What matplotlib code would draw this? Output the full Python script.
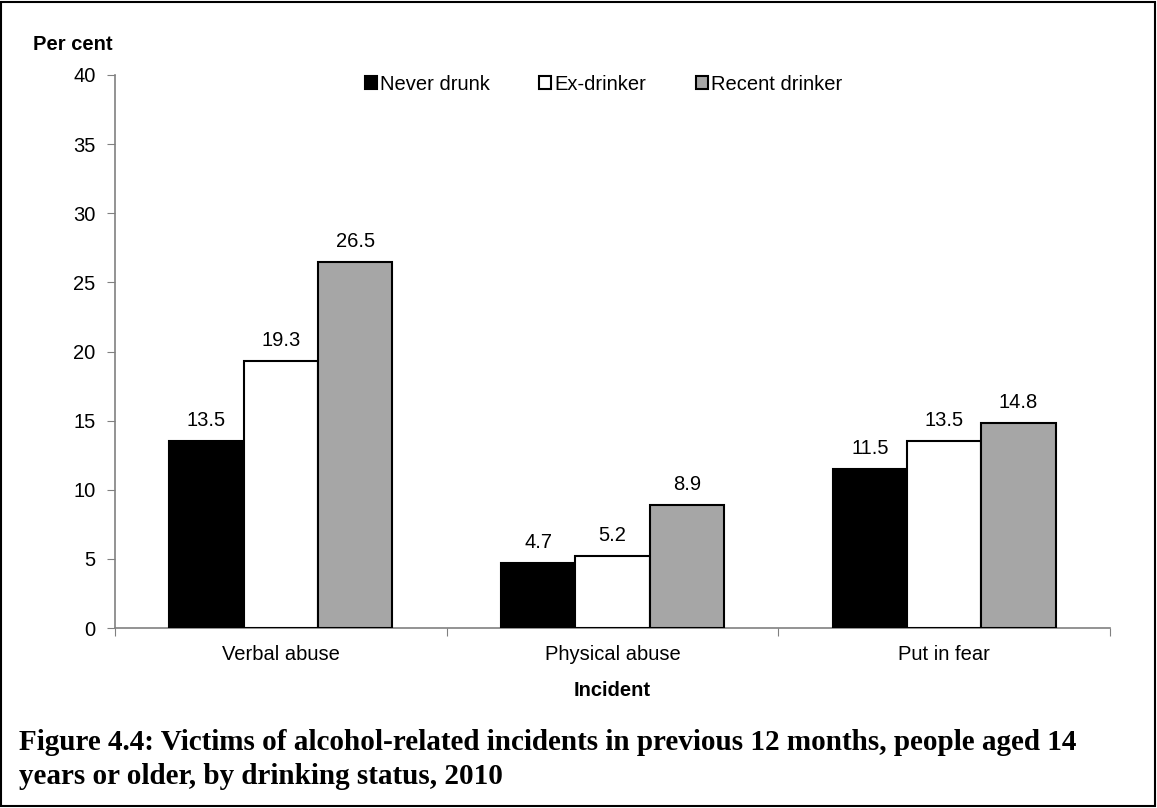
import numpy as np
import matplotlib
matplotlib.use("Agg")
import matplotlib.pyplot as plt
from matplotlib.patches import Rectangle

plt.rcParams["font.family"] = ["Liberation Sans", "DejaVu Sans"]

# data
categories = ["Verbal abuse", "Physical abuse", "Put in fear"]
series_names = ["Never drunk", "Ex-drinker", "Recent drinker"]
never_drunk = [13.5, 4.7, 11.5]
ex_drinker = [19.3, 5.2, 13.5]
recent_drinker = [26.5, 8.9, 14.8]
colors = ["#000000", "#FFFFFF", "#A6A6A6"]

FS = 14.5

fig = plt.figure(figsize=(11.57, 8.08), dpi=100)
ax = fig.add_axes([115 / 1157, 1 - 628 / 808, (1110 - 115) / 1157, (628 - 75) / 808])

x = np.arange(len(categories))
width = 0.224
values = [never_drunk, ex_drinker, recent_drinker]
for i, (vals, name, col) in enumerate(zip(values, series_names, colors)):
    pos = x + (i - 1) * width
    ax.bar(pos, vals, width=width, color=col, edgecolor="black", linewidth=1.5,
           label=name, zorder=3)
    for px, v in zip(pos, vals):
        ax.annotate(f"{v:.1f}", (px, v), textcoords="offset points", xytext=(0, 8),
                    ha="center", va="bottom", fontsize=FS)

ax.set_xlim(-0.5, len(categories) - 0.5)
ax.set_ylim(0, 40)
ax.set_yticks(range(0, 41, 5))
ax.set_xticks(np.arange(-0.5, len(categories), 1.0))
ax.set_xticklabels([])
ax.set_xticks(x, minor=True)
ax.set_xticklabels(categories, minor=True, fontsize=FS)
ax.tick_params(axis="x", which="minor", length=0, pad=12)
ax.tick_params(axis="x", which="major", direction="out", length=6, color="#808080")
ax.tick_params(axis="y", direction="out", length=6, color="#808080", labelsize=FS, pad=8)

for s in ["top", "right"]:
    ax.spines[s].set_visible(False)
for s in ["left", "bottom"]:
    ax.spines[s].set_color("#808080")
    ax.spines[s].set_linewidth(1.2)

fig.text(33 / 1157, 1 - 45 / 808, "Per cent", fontsize=FS, fontweight="bold", va="center")
fig.text((115 + 1110) / 2 / 1157, 1 - 690 / 808, "Incident", fontsize=FS,
         fontweight="bold", ha="center", va="center")

leg = ax.legend(loc="center left", bbox_to_anchor=((365 - 115) / (1110 - 115), (628 - 84) / (628 - 75)),
                ncol=3, frameon=False, fontsize=FS, handlelength=0.6, handleheight=0.6,
                handletextpad=0.15, columnspacing=2.45, borderaxespad=0, borderpad=0)

fig.text(19 / 1157, 1 - 743 / 808,
         "Figure 4.4: Victims of alcohol-related incidents in previous 12 months, people aged 14",
         fontsize=21, fontweight="bold", family=["Liberation Serif"], va="center")
fig.text(19 / 1157, 1 - 777 / 808,
         "years or older, by drinking status, 2010",
         fontsize=21, fontweight="bold", family=["Liberation Serif"], va="center")

fig.patches.append(Rectangle((0.001, 0.002), 0.997, 0.996, transform=fig.transFigure,
                             fill=False, edgecolor="black", linewidth=1.5))

fig.savefig("out.png", dpi=100, facecolor="white")
